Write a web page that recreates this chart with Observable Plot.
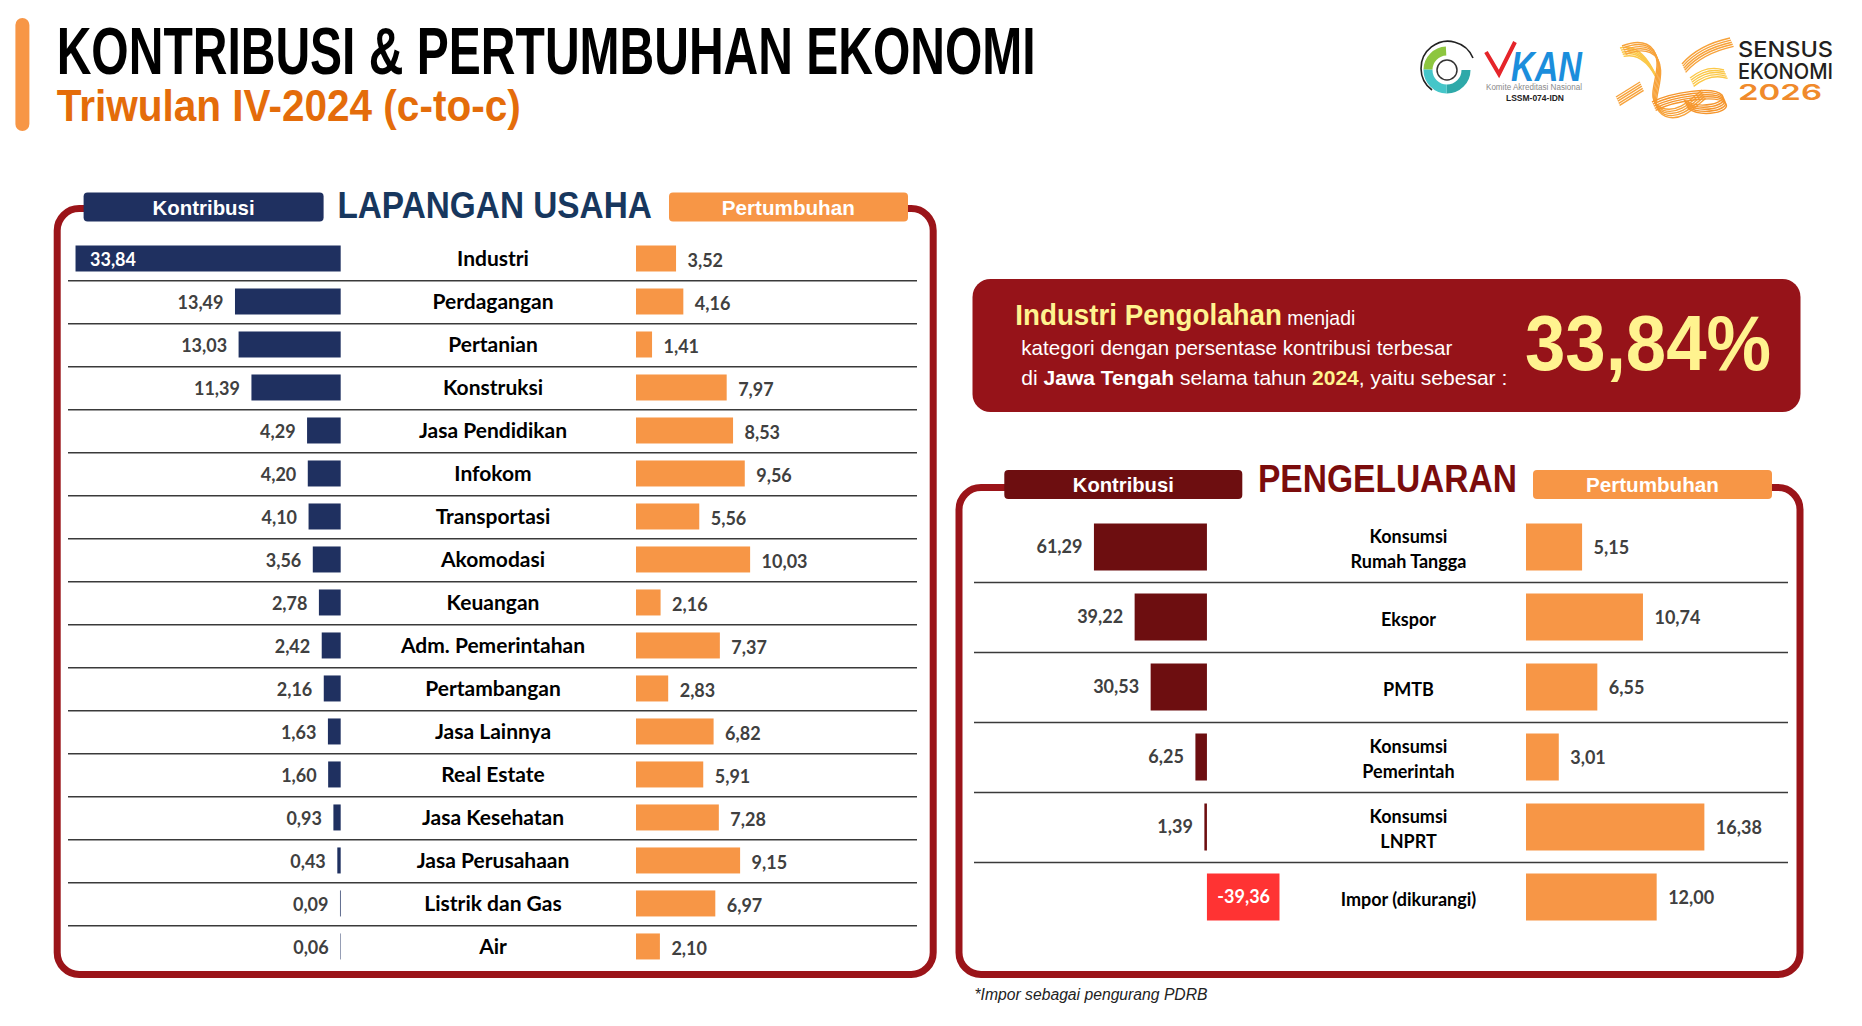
<!DOCTYPE html>
<html><head><meta charset="utf-8">
<script src="https://cdn.jsdelivr.net/npm/d3@7"></script>
<script src="https://cdn.jsdelivr.net/npm/@observablehq/plot@0.6"></script>
<style>
html,body{margin:0;padding:0;background:#fff;}
#page{position:relative;width:1862px;height:1026px;overflow:hidden;background:#fff;}
.abs{position:absolute;}
svg.deco{position:absolute;left:0;top:0;}
.nr{font-family:"Liberation Sans Narrow","Arial Narrow","Liberation Sans",Arial,sans-serif;}
</style></head>
<body><div id="page">
<svg class="deco" id="deco" width="1862" height="1026" viewBox="0 0 1862 1026">
  <!-- accent bar -->
  <rect x="15.4" y="18" width="14" height="113" rx="7" fill="#F79646"/>
  <text class="nr" x="56.7" y="74" font-size="66" font-weight="bold" fill="#000" textLength="979" lengthAdjust="spacingAndGlyphs">KONTRIBUSI &amp; PERTUMBUHAN EKONOMI</text>
  <text class="nr" x="56.7" y="121" font-size="45" font-weight="bold" fill="#E46C0A" textLength="464" lengthAdjust="spacingAndGlyphs">Triwulan IV-2024 (c-to-c)</text>

  <!-- logos (approximate) -->
  <g>
    <path d="M1432,90 A27,27 0 1 1 1473,58" fill="none" stroke="#222" stroke-width="1.6"/>
    <circle cx="1447" cy="70" r="19" fill="none" stroke="#2EA9A9" stroke-width="9" stroke-dasharray="30 90"/>
    <circle cx="1447" cy="70" r="19" fill="none" stroke="#45C6C9" stroke-width="9" stroke-dasharray="0 30 30 60" />
    <circle cx="1447" cy="70" r="19" fill="none" stroke="#8DC63F" stroke-width="9" stroke-dasharray="0 60 28 32" />
    <circle cx="1447" cy="70" r="10" fill="#fff" stroke="#333" stroke-width="1.5"/>
    <path d="M1486,52 L1499,74 L1515,42" fill="none" stroke="#E5252A" stroke-width="4"/>
    <text x="1511" y="81" font-family="Liberation Sans" font-size="43" font-weight="bold" font-style="italic" fill="#1B8EDC" textLength="71" lengthAdjust="spacingAndGlyphs">KAN</text>
    <text x="1486" y="90" font-family="Liberation Sans" font-size="8.5" fill="#8a8a8a" textLength="96" lengthAdjust="spacingAndGlyphs">Komite Akreditasi Nasional</text>
    <text x="1506" y="101" font-family="Liberation Sans" font-size="9" font-weight="bold" fill="#222" textLength="58" lengthAdjust="spacingAndGlyphs">LSSM-074-IDN</text>
    <g id="ribbon" fill="none" stroke-linecap="butt"></g>
    <text x="1738" y="57" font-family="Inter,Roboto,sans-serif" font-size="22" font-weight="500" fill="#231F20" textLength="95" lengthAdjust="spacingAndGlyphs">SENSUS</text>
    <text x="1738" y="79" font-family="Inter,Roboto,sans-serif" font-size="22" font-weight="500" fill="#231F20" textLength="95" lengthAdjust="spacingAndGlyphs">EKONOMI</text>
    <text x="1738" y="100" font-family="Inter,Roboto,sans-serif" font-size="22" font-weight="600" fill="#F08A2B" textLength="84" lengthAdjust="spacingAndGlyphs">2026</text>
  </g>

  <!-- left panel -->
  <rect x="57.2" y="208.5" width="876" height="766" rx="22" fill="none" stroke="#9B1419" stroke-width="7"/>
  <rect x="318" y="195" width="357" height="22" fill="#fff"/>
  <rect x="83.6" y="192.5" width="240" height="29" rx="4" fill="#1F3060"/>
  <rect x="669" y="192.5" width="239" height="29" rx="4" fill="#F79646"/>
  <text class="nr" x="203.6" y="214.5" font-size="21" font-weight="bold" fill="#fff" text-anchor="middle" textLength="102" lengthAdjust="spacingAndGlyphs">Kontribusi</text>
  <text class="nr" x="788.3" y="214.5" font-size="21" font-weight="bold" fill="#fff" text-anchor="middle" textLength="133" lengthAdjust="spacingAndGlyphs">Pertumbuhan</text>
  <text class="nr" x="337.4" y="218" font-size="37" font-weight="bold" fill="#17375E" textLength="314.5" lengthAdjust="spacingAndGlyphs">LAPANGAN USAHA</text>

  <!-- callout -->
  <rect x="972.5" y="279" width="828" height="133" rx="18" fill="#961319"/>
  <text class="nr" x="1015.3" y="325" textLength="340" lengthAdjust="spacingAndGlyphs"><tspan font-size="30" font-weight="bold" fill="#FFF38F">Industri Pengolahan</tspan><tspan font-size="21" fill="#fff"> menjadi</tspan></text>
  <text class="nr" x="1021.3" y="355" font-size="21" fill="#fff" textLength="431" lengthAdjust="spacingAndGlyphs">kategori dengan persentase kontribusi terbesar</text>
  <text class="nr" x="1021.3" y="385" font-size="21" fill="#fff" textLength="486" lengthAdjust="spacingAndGlyphs">di <tspan font-weight="bold">Jawa Tengah</tspan> selama tahun <tspan font-weight="bold" fill="#FFF38F">2024</tspan>, yaitu sebesar  :</text>
  <text class="nr" x="1525" y="370" font-size="77" font-weight="bold" fill="#FFF38F" textLength="246" lengthAdjust="spacingAndGlyphs">33,84%</text>

  <!-- right panel -->
  <rect x="959" y="487.5" width="841" height="487" rx="22" fill="none" stroke="#9B1419" stroke-width="7"/>
  <rect x="1238" y="474" width="299" height="22" fill="#fff"/>
  <rect x="1004.3" y="470" width="238" height="29" rx="4" fill="#6D0E10"/>
  <rect x="1533" y="470" width="239" height="29" rx="4" fill="#F79646"/>
  <text class="nr" x="1123.3" y="492" font-size="21" font-weight="bold" fill="#fff" text-anchor="middle" textLength="101" lengthAdjust="spacingAndGlyphs">Kontribusi</text>
  <text class="nr" x="1652.4" y="492" font-size="21" font-weight="bold" fill="#fff" text-anchor="middle" textLength="133" lengthAdjust="spacingAndGlyphs">Pertumbuhan</text>
  <text class="nr" x="1258" y="492" font-size="38" font-weight="bold" fill="#7B0C0C" textLength="259" lengthAdjust="spacingAndGlyphs">PENGELUARAN</text>

  <text class="nr" x="974.5" y="1000" font-size="16" font-style="italic" fill="#222" textLength="233" lengthAdjust="spacingAndGlyphs">*Impor sebagai pengurang PDRB</text>
</svg>
</div>
<script>
// ---------- data ----------
const lapCats = ["Industri","Perdagangan","Pertanian","Konstruksi","Jasa Pendidikan","Infokom","Transportasi","Akomodasi","Keuangan","Adm. Pemerintahan","Pertambangan","Jasa Lainnya","Real Estate","Jasa Kesehatan","Jasa Perusahaan","Listrik dan Gas","Air"];
const lapKontribusi = [33.84,13.49,13.03,11.39,4.29,4.20,4.10,3.56,2.78,2.42,2.16,1.63,1.60,0.93,0.43,0.09,0.06];
const lapPertumbuhan = [3.52,4.16,1.41,7.97,8.53,9.56,5.56,10.03,2.16,7.37,2.83,6.82,5.91,7.28,9.15,6.97,2.10];

const pengCats = ["Konsumsi\nRumah Tangga","Ekspor","PMTB","Konsumsi\nPemerintah","Konsumsi\nLNPRT","Impor (dikurangi)"];
const pengKontribusi = [61.29,39.22,30.53,6.25,1.39,-39.36];
const pengPertumbuhan = [5.15,10.74,6.55,3.01,16.38,12.00];

// ---------- decorative ribbon logo (striped strokes) ----------
(function(){
  const g = document.getElementById("ribbon");
  const paths = [
    ["M1616,97 L1640,82", "#F7A23A"],
    ["M1620,48 C1636,44 1648,58 1656,76", "#FBC848"],
    ["M1622,46 C1642,38 1656,44 1657,62 C1658,82 1644,100 1662,108 C1678,114 1692,98 1702,90", "#F7A23A"],
    ["M1652,102 C1672,92 1714,86 1722,95 C1728,103 1700,110 1684,100", "#F5962E"],
    ["M1682,64 C1694,50 1712,42 1730,38", "#F7A23A"],
    ["M1690,78 C1700,70 1712,66 1724,70", "#FBC848"]
  ];
  for (const [d, c] of paths) {
    for (let k = 0; k < 5; k++) {
      const p = document.createElementNS("http://www.w3.org/2000/svg", "path");
      p.setAttribute("d", d);
      p.setAttribute("stroke", c);
      p.setAttribute("stroke-width", "1.4");
      p.setAttribute("transform", `translate(${k * 0.9},${k * 2.1})`);
      g.appendChild(p);
    }
  }
})();

// ---------- helpers ----------
const page = document.getElementById("page");
const fmt = v => d3.format(".2f")(v).replace(".", ",").replace("\u2212", "-");
const FONT = "Lato, 'Open Sans', sans-serif";
const STYLE = {background: "transparent", overflow: "visible"};
function place(node, left, top, w) {
  const d = document.createElement("div");
  d.className = "abs";
  d.style.left = left + "px"; d.style.top = top + "px"; d.style.width = w + "px";
  d.appendChild(node); page.appendChild(d);
}
const NAVY = "#1F3060", ORANGE = "#F79646", DARKRED = "#6D0E10", RED = "#FF3333", GRAY = "#404040";

// ---------- LAPANGAN USAHA ----------
const lap = lapCats.map((c, i) => ({cat: c, k: lapKontribusi[i], p: lapPertumbuhan[i]}));
const LTOP = 233, LH = 738, LSTEP = LH / lapCats.length;
const yLap = {type: "band", domain: lapCats, padding: 0, axis: null};

place(Plot.plot({
  width: 272.7, height: LH, margin: 0, style: STYLE,
  x: {domain: [0, 34.8], reverse: true, axis: null}, y: yLap,
  marks: [
    Plot.barX(lap, {x: "k", y: "cat", fill: NAVY, insetTop: 8.5, insetBottom: 8.5}),
    Plot.text(lap.filter(d => d.k < 20), {x: "k", y: "cat", text: d => fmt(d.k), textAnchor: "end", dx: -12, dy: 1, fill: GRAY, fontSize: 18, fontWeight: "bold", fontFamily: FONT}),
    Plot.text(lap.filter(d => d.k >= 20), {x: "k", y: "cat", text: d => fmt(d.k), textAnchor: "start", dx: 14, dy: 1, fill: "white", fontSize: 18, fontWeight: "bold", fontFamily: FONT})
  ]
}), 67.7, LTOP, 273);

place(Plot.plot({
  width: 280.7, height: LH, margin: 0, style: STYLE,
  x: {domain: [0, 24.67], axis: null}, y: yLap,
  marks: [
    Plot.barX(lap, {x: "p", y: "cat", fill: ORANGE, insetTop: 8.5, insetBottom: 8.5}),
    Plot.text(lap, {x: "p", y: "cat", text: d => fmt(d.p), textAnchor: "start", dx: 11, dy: 2, fill: GRAY, fontSize: 18, fontWeight: "bold", fontFamily: FONT})
  ]
}), 636, LTOP, 281);

place(Plot.plot({
  width: 849, height: LH, margin: 0, style: STYLE, y: yLap,
  marks: [
    Plot.ruleY(lap.slice(0, -1), {y: "cat", dy: LSTEP / 2, stroke: "#3a3a3a", strokeWidth: 1.6}),
    Plot.text(lap, {y: "cat", text: "cat", frameAnchor: "middle", fill: "#000", fontSize: 21, fontWeight: "bold", fontFamily: FONT})
  ]
}), 67.7, LTOP, 849);

// ---------- PENGELUARAN ----------
const peng = pengCats.map((c, i) => ({cat: c, k: pengKontribusi[i], p: pengPertumbuhan[i]}));
const RTOP = 512, RH = 420, RSTEP = RH / pengCats.length;
const yPeng = {type: "band", domain: pengCats, padding: 0, axis: null};

place(Plot.plot({
  width: 320.5, height: RH, margin: 0, style: STYLE,
  x: {domain: [-47.5, 126.35], reverse: true, axis: null}, y: yPeng,
  marks: [
    Plot.barX(peng, {x: "k", y: "cat", fill: d => d.k < 0 ? RED : DARKRED, insetTop: 11.5, insetBottom: 11.5}),
    Plot.text(peng.filter(d => d.k >= 0), {x: "k", y: "cat", text: d => fmt(d.k), textAnchor: "end", dx: -12, fill: GRAY, fontSize: 18, fontWeight: "bold", fontFamily: FONT}),
    Plot.text(peng.filter(d => d.k < 0), {x: d => d.k / 2, y: "cat", text: d => fmt(d.k), fill: "white", fontSize: 18, fontWeight: "bold", fontFamily: FONT})
  ]
}), 973.5, RTOP, 321);

place(Plot.plot({
  width: 262, height: RH, margin: 0, style: STYLE,
  x: {domain: [0, 24.06], axis: null}, y: yPeng,
  marks: [
    Plot.barX(peng, {x: "p", y: "cat", fill: ORANGE, insetTop: 11.5, insetBottom: 11.5}),
    Plot.text(peng, {x: "p", y: "cat", text: d => fmt(d.p), textAnchor: "start", dx: 11, dy: 1, fill: GRAY, fontSize: 18, fontWeight: "bold", fontFamily: FONT})
  ]
}), 1526, RTOP, 262);

place(Plot.plot({
  width: 814, height: RH, margin: 0, style: STYLE, y: yPeng,
  marks: [
    Plot.ruleY(peng.slice(0, -1), {y: "cat", dy: RSTEP / 2, stroke: "#3a3a3a", strokeWidth: 1.6}),
    Plot.text(peng, {y: "cat", text: "cat", frameAnchor: "middle", dx: 27, lineHeight: 1.4, fill: "#000", fontSize: 18, fontWeight: "bold", fontFamily: FONT})
  ]
}), 973.5, RTOP, 814);
</script>
</body></html>
